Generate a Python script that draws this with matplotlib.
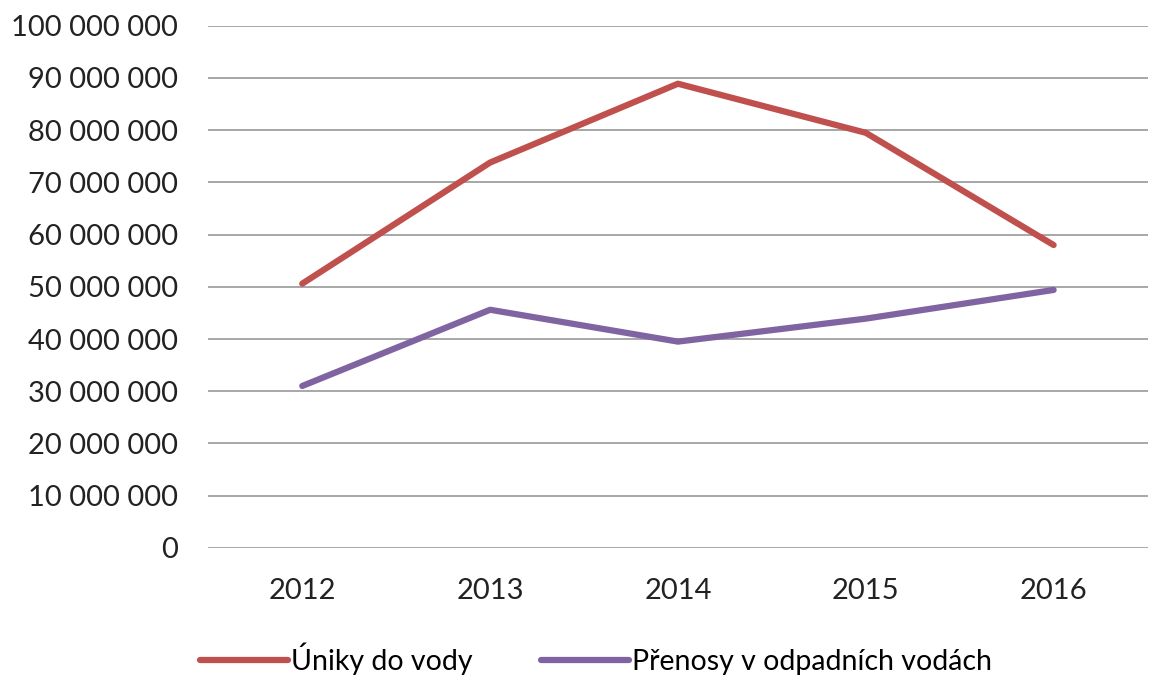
import matplotlib
matplotlib.use('Agg')
import matplotlib.pyplot as plt
from matplotlib.ticker import FuncFormatter, MultipleLocator

years = ['2012', '2013', '2014', '2015', '2016']
uniky = [50600000, 73800000, 88900000, 79500000, 58000000]
prenosy = [31000000, 45600000, 39500000, 43900000, 49400000]

plt.rcParams['font.family'] = ['Lato', 'DejaVu Sans']

fig = plt.figure(figsize=(11.51, 6.78), dpi=100)
ax = fig.add_axes([0.181, 0.192, 0.816, 0.770])

x = range(len(years))
ax.plot(x, uniky, color='#C0504D', lw=4.5, solid_capstyle='round', label='Úniky do vody')
ax.plot(x, prenosy, color='#8064A2', lw=4.5, solid_capstyle='round', label='Přenosy v odpadních vodách')

ax.set_xlim(-0.5, 4.5)
ax.set_ylim(0, 100000000)
ax.yaxis.set_major_locator(MultipleLocator(10000000))
ax.yaxis.set_major_formatter(FuncFormatter(lambda v, p: f'{int(v):,}'.replace(',', ' ')))
ax.set_xticks(list(x))
ax.set_xticklabels(years)
ax.grid(axis='y', color='#A0A0A0', lw=1.3)
ax.set_axisbelow(True)
for s in ax.spines.values():
    s.set_visible(False)
ax.tick_params(axis='both', length=0, labelsize=21, colors='#222222')
ax.tick_params(axis='y', pad=22)
ax.tick_params(axis='x', pad=22)

ax.legend(loc='center', bbox_to_anchor=(0.413, -0.212), ncol=2, frameon=False,
          fontsize=20.5, handlelength=3.1, handletextpad=0.1, columnspacing=2.4,
          borderpad=0, borderaxespad=0)

fig.savefig('out.png', dpi=100)
